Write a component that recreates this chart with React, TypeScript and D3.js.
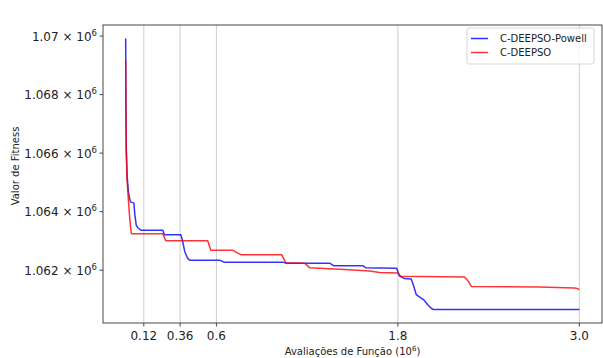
import React from "react";
import * as d3 from "d3";

// x in 10^6 function evaluations, y = fitness value
const blueX = [0, 0.0013, 0.004, 0.0092, 0.0178, 0.031, 0.054, 0.0608, 0.0694, 0.0806, 0.1004, 0.2457, 0.2556, 0.3646, 0.3745, 0.391, 0.4108, 0.424, 0.6222, 0.6486, 1.0383, 1.0581, 1.3488, 1.3752, 1.5667, 1.5865, 1.7913, 1.811, 1.8441, 1.8884, 1.9036, 1.9214, 1.9498, 1.9696, 1.996, 2.0225, 2.0357, 3.0];
const blueY = [1069915, 1067805, 1066104, 1065253, 1064674, 1064334, 1064300, 1063892, 1063551, 1063449, 1063364, 1063364, 1063211, 1063211, 1063041, 1062633, 1062394, 1062343, 1062343, 1062275, 1062275, 1062241, 1062241, 1062156, 1062156, 1062088, 1062071, 1061799, 1061714, 1061697, 1061475, 1061169, 1061067, 1060999, 1060829, 1060693, 1060659, 1060659];

const redX = [0, 0.0013, 0.004, 0.0092, 0.0178, 0.0277, 0.0376, 0.2457, 0.2655, 0.5429, 0.5627, 0.7081, 0.7345, 0.7609, 1.0317, 1.0581, 1.1836, 1.2166, 1.4478, 1.6129, 1.679, 1.7979, 1.821, 2.2404, 2.2669, 2.2867, 2.7358, 2.967, 2.9868, 3.0];
const redY = [1069166, 1067805, 1066104, 1065083, 1064402, 1063721, 1063245, 1063245, 1063007, 1063007, 1062684, 1062684, 1062598, 1062530, 1062530, 1062258, 1062241, 1062088, 1062020, 1061969, 1061918, 1061901, 1061792, 1061765, 1061612, 1061441, 1061424, 1061390, 1061373, 1061339];

const seriesNames = ["C-DEEPSO-Powell", "C-DEEPSO"];
const seriesColors = ["blue", "red"];

const xTicks = [0.12, 0.36, 0.6, 1.8, 3.0];
const xTickLabels = ["0.12", "0.36", "0.6", "1.8", "3.0"];
const yTicks = [1062000, 1064000, 1066000, 1068000, 1070000];
const yTickMantissas = ["1.062", "1.064", "1.066", "1.068", "1.07"];

const xLabel = "Avaliações de Função (10";
const yLabel = "Valor de Fitness";

const W = 603;
const H = 358;
const left = 103;
const right = 602;
const top = 25;
const bottom = 323;
const FONT = "DejaVu Sans, sans-serif";

export default function App() {
  const allY = [...blueY, ...redY];
  const [yMin, yMax] = d3.extent(allY) as [number, number];
  const yPad = (yMax - yMin) * 0.05;
  const x = d3.scaleLinear().domain([-0.15, 3.15]).range([left, right]);
  const y = d3.scaleLinear().domain([yMin - yPad, yMax + yPad]).range([bottom, top]);

  const line = d3
    .line<[number, number]>()
    .x((d) => x(d[0]))
    .y((d) => y(d[1]));

  const blue: [number, number][] = blueX.map((v, i) => [v, blueY[i]]);
  const red: [number, number][] = redX.map((v, i) => [v, redY[i]]);
  const series = [blue, red];

  return (
    <svg
      width={W}
      height={H}
      style={{ position: "absolute", left: 0, top: 0, background: "#fff" }}
      fontFamily={FONT}
    >
      <rect x={0} y={0} width={W} height={H} fill="#fff" />
      {/* grid */}
      {xTicks.map((t) => (
        <line key={"g" + t} x1={x(t)} x2={x(t)} y1={top} y2={bottom} stroke="#c8c8c8" strokeWidth={0.9} />
      ))}
      {/* series */}
      {series.map((s, i) => (
        <path key={i} d={line(s) || ""} fill="none" stroke={seriesColors[i]} strokeWidth={1.5} strokeOpacity={0.8} strokeLinejoin="round" />
      ))}
      {/* spines */}
      <rect x={left} y={top} width={right - left} height={bottom - top} fill="none" stroke="#333" strokeWidth={0.9} />
      {/* x ticks */}
      {xTicks.map((t, i) => (
        <g key={"xt" + t}>
          <line x1={x(t)} x2={x(t)} y1={bottom} y2={bottom + 3.5} stroke="#333" strokeWidth={0.9} />
          <text x={x(t)} y={bottom + 16.5} textAnchor="middle" fontSize={12} fill="#222">
            {xTickLabels[i]}
          </text>
        </g>
      ))}
      {/* y ticks */}
      {yTicks.map((t, i) => (
        <g key={"yt" + t}>
          <line x1={left - 3.5} x2={left} y1={y(t)} y2={y(t)} stroke="#333" strokeWidth={0.9} />
          <text x={left - 6} y={y(t) + 4.5} textAnchor="end" fontSize={12} fill="#222">
            {yTickMantissas[i] + " × 10"}
            <tspan fontSize={8.5} dy={-5}>6</tspan>
          </text>
        </g>
      ))}
      {/* axis labels */}
      <text x={(left + right) / 2} y={355} textAnchor="middle" fontSize={10} fill="#222">
        {xLabel}
        <tspan fontSize={7} dy={-4}>6</tspan>
        <tspan dy={4}>)</tspan>
      </text>
      <text
        transform={`translate(19, ${(top + bottom) / 2 - 8}) rotate(-90)`}
        textAnchor="middle"
        fontSize={10}
        fill="#222"
      >
        {yLabel}
      </text>
      {/* legend */}
      <rect x={467} y={28} width={127} height={36} rx={2} fill="#fff" fillOpacity={0.8} stroke="#d0d0d0" strokeWidth={0.9} />
      {seriesNames.map((n, i) => (
        <g key={n}>
          <line x1={471} x2={488} y1={38.5 + i * 14} y2={38.5 + i * 14} stroke={seriesColors[i]} strokeWidth={1.5} strokeOpacity={0.8} />
          <text x={500} y={42 + i * 14} fontSize={10} fill="#222">
            {n}
          </text>
        </g>
      ))}
    </svg>
  );
}
